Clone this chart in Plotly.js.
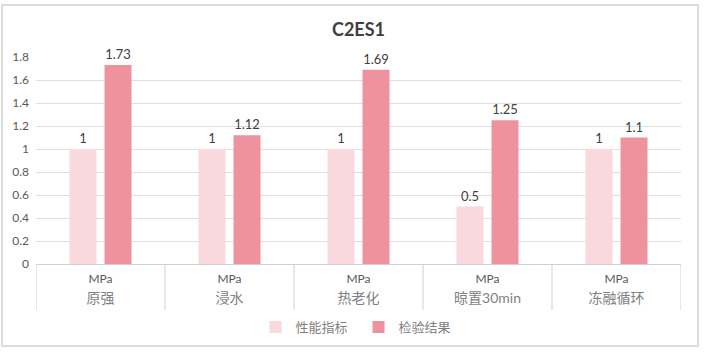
<!DOCTYPE html>
<html>
<head>
<meta charset="utf-8">
<script src="https://cdn.plot.ly/plotly-3.0.1.min.js"></script>
<style>
  html, body { margin: 0; padding: 0; background: #ffffff; width: 704px; height: 354px; overflow: hidden; }
  #frame { position: absolute; left: 1px; top: 4px; width: 698px; height: 343px; box-sizing: border-box; border: 2px solid #dcdcdc; }
  #chart { position: absolute; left: 0; top: 0; width: 704px; height: 354px; }
</style>
</head>
<body>
<div id="frame"></div>
<div id="chart"></div>
<script>
const categories = ["原强", "浸水", "热老化", "晾置30min", "冻融循环"];
const unitLabels = ["MPa", "MPa", "MPa", "MPa", "MPa"];
const seriesNames = ["性能指标", "检验结果"];
const indexValues = [1, 1, 1, 0.5, 1];
const resultValues = [1.73, 1.12, 1.69, 1.25, 1.1];
const yTicks = [0, 0.2, 0.4, 0.6, 0.8, 1, 1.2, 1.4, 1.6, 1.8];

const numFont = "Lato, 'Open Sans', sans-serif";
const cjkFont = "Lato, 'Noto Sans CJK SC', sans-serif";

const tickText = categories.map((c, i) =>
  "<span style='font-size:12px;color:#595959'>" + unitLabels[i] + "</span><br><span style='font-size:14px;color:#7f7f7f'>" + c + "</span>");

// divider lines at category boundaries (data coordinates of the category axis)
const dividerShapes = [];
for (let i = 0; i <= categories.length; i++) {
  dividerShapes.push({
    type: "line", xref: "x", yref: "paper",
    x0: i - 0.5, x1: i - 0.5, y0: 0, y1: -0.222,
    line: { color: "#d0d0d0", width: 1 }
  });
}

const traces = [
  {
    type: "bar", name: seriesNames[0], x: categories, y: indexValues,
    marker: { color: "#F9D8DE" },
    text: indexValues.map(String), textposition: "outside", cliponaxis: false,
    textfont: { family: numFont, size: 13, color: "#404040" }
  },
  {
    type: "bar", name: seriesNames[1], x: categories, y: resultValues,
    marker: { color: "#EE929E" },
    text: resultValues.map(String), textposition: "outside", cliponaxis: false,
    textfont: { family: numFont, size: 13, color: "#404040" }
  }
];

const layout = {
  width: 704, height: 354,
  paper_bgcolor: "rgba(0,0,0,0)", plot_bgcolor: "rgba(0,0,0,0)",
  margin: { l: 36, r: 23, t: 57, b: 90, autoexpand: false },
  title: { text: "<b>C2ES1</b>", x: 0.5, xref: "paper", y: 0.915, yref: "container", xanchor: "center", yanchor: "middle",
           font: { family: "Lato, 'Open Sans', sans-serif", size: 18, color: "#404040" } },
  barmode: "group", bargap: 0.457, bargroupgap: 0.23,
  xaxis: {
    type: "category", range: [-0.5, categories.length - 0.5],
    tickvals: categories, ticktext: tickText,
    showline: true, linecolor: "#d0d0d0", linewidth: 1,
    ticks: "", ticklabelstandoff: 0,
    tickfont: { family: cjkFont, size: 15, color: "#666666" },
    showgrid: false, zeroline: false, automargin: false
  },
  yaxis: {
    range: [0, 1.8], tickvals: yTicks,
    showgrid: true, gridcolor: "#e0e0e0", gridwidth: 1,
    zeroline: false, showline: false,
    ticklabelstandoff: 6, automargin: false,
    tickfont: { family: numFont, size: 12, color: "#595959" }
  },
  shapes: dividerShapes,
  legend: {
    orientation: "h", x: 0.5, xanchor: "center", xref: "paper",
    y: 0.076, yanchor: "middle", yref: "container",
    font: { family: "'Noto Sans CJK SC', sans-serif", size: 13, color: "#7f7f7f" },
    itemwidth: 30, entrywidth: 58, entrywidthmode: "pixels"
  },
  showlegend: true
};

Plotly.newPlot("chart", traces, layout, { displayModeBar: false, staticPlot: true });
</script>
</body>
</html>
